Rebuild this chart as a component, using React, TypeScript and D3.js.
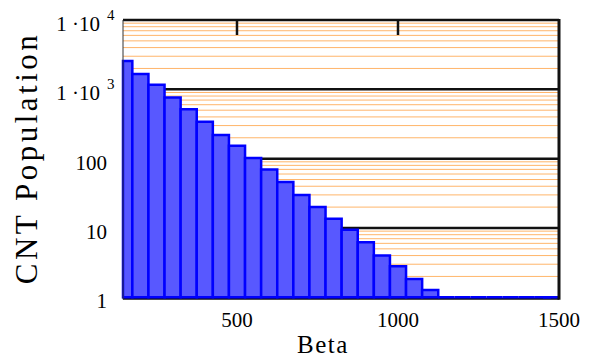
import React, { useEffect, useRef } from 'react';
import * as d3 from 'd3';

// histogram bins (bin centres, width 50) and counts
const betaCentres = [150, 200, 250, 300, 350, 400, 450, 500, 550, 600, 650, 700, 750, 800,
  850, 900, 950, 1000, 1050, 1100, 1150, 1200, 1250, 1300, 1350, 1400, 1450, 1475];
const population = [2570, 1670, 1160, 760, 516, 342, 220, 154, 102, 70, 46, 30, 20, 13.6,
  9.4, 6.2, 4, 2.8, 1.84, 1.27, 1, 1, 1, 1, 1, 1, 1, 1];
const binWidth = 50;

const xTicks = [500, 1000, 1500];
const yTicks = [1, 10, 100, 1000, 10000];
const yTickExp = [null, null, null, 3, 4];

const serif = 'Liberation Serif, Times New Roman, serif';

export default function App() {
  const ref = useRef<SVGSVGElement>(null);
  const width = 593;
  const height = 362;
  const plot = { left: 123, right: 559, top: 20, bottom: 297.3 };

  useEffect(() => {
    const svg = d3.select(ref.current);
    svg.selectAll('*').remove();

    const x = d3.scaleLinear().domain([146, 1500]).range([plot.left, plot.right]);
    const y = d3.scaleLog().domain([1, 10000]).range([plot.bottom, plot.top]);

    // minor grid (orange)
    const minors: number[] = [];
    [1, 10, 100, 1000].forEach(d => { for (let k = 2; k <= 9; k++) minors.push(d * k); });
    svg.append('g').selectAll('line').data(minors).join('line')
      .attr('x1', plot.left).attr('x2', plot.right)
      .attr('y1', d => y(d)).attr('y2', d => y(d))
      .attr('stroke', '#ffa850').attr('stroke-opacity', 0.85).attr('stroke-width', 1);

    // decade grid (black)
    svg.append('g').selectAll('line').data([10, 100, 1000, 10000]).join('line')
      .attr('x1', plot.left).attr('x2', plot.right)
      .attr('y1', d => y(d)).attr('y2', d => y(d))
      .attr('stroke', '#111').attr('stroke-width', 2.5);

    // bottom axis line
    svg.append('line')
      .attr('x1', plot.left).attr('x2', plot.right)
      .attr('y1', plot.bottom + 1.5).attr('y2', plot.bottom + 1.5)
      .attr('stroke', '#111').attr('stroke-width', 2);

    // top ticks
    svg.append('g').selectAll('line').data([500, 1000]).join('line')
      .attr('x1', d => x(d)).attr('x2', d => x(d))
      .attr('y1', plot.top).attr('y2', plot.top + 15)
      .attr('stroke', '#111').attr('stroke-width', 2.5);

    // bars
    svg.append('g').selectAll('path').data(betaCentres).join('path')
      .attr('d', (c, i) => {
        const x0 = Math.max(x(c - binWidth / 2), plot.left);
        const x1 = Math.min(x(c + binWidth / 2), plot.right);
        const yt = y(population[i]);
        return `M${x0},${yt}H${x1}V${plot.bottom}H${x0}Z`;
      })
      .attr('fill', '#5858ff')
      .attr('stroke', '#0000ff')
      .attr('stroke-width', 2.5);

    // frame: thin left, thick right
    svg.append('line')
      .attr('x1', plot.left).attr('x2', plot.left)
      .attr('y1', plot.top).attr('y2', plot.bottom + 2)
      .attr('stroke', '#333').attr('stroke-width', 1);
    svg.append('line')
      .attr('x1', plot.right).attr('x2', plot.right)
      .attr('y1', plot.top - 1).attr('y2', plot.bottom + 2.5)
      .attr('stroke', '#111').attr('stroke-width', 3);

    // x tick labels
    svg.append('g').selectAll('text').data(xTicks).join('text')
      .attr('x', d => x(d)).attr('y', 327)
      .attr('text-anchor', 'middle')
      .attr('font-family', serif)
      .attr('font-size', 21)
      .text(d => d);

    // y tick labels
    const yl = svg.append('g')
      .attr('font-family', serif)
      .attr('font-size', 21);
    yTicks.forEach((t, i) => {
      const exp = yTickExp[i];
      const by = y(t) + 11;
      if (exp === null) {
        yl.append('text').attr('x', 107).attr('y', by).attr('text-anchor', 'end').text(t);
      } else {
        yl.append('text').attr('x', 100).attr('y', by).attr('text-anchor', 'end').text('1 \u00b710');
        yl.append('text').attr('x', 107).attr('y', by - 11)
          .attr('font-size', 15).text(exp);
      }
    });

    // axis titles
    svg.append('text')
      .attr('x', 323).attr('y', 353)
      .attr('text-anchor', 'middle')
      .attr('font-family', serif)
      .attr('font-size', 25)
      .attr('letter-spacing', 1.5)
      .text('Beta');

    svg.append('text')
      .attr('transform', 'translate(37,158) rotate(-90)')
      .attr('text-anchor', 'middle')
      .attr('font-family', serif)
      .attr('font-size', 31)
      .attr('letter-spacing', 3.5)
      .text('CNT Population');
  }, []);

  return (
    <svg ref={ref} width={width} height={height}
      style={{ position: 'absolute', left: 0, top: 0, background: '#fff' }} />
  );
}
